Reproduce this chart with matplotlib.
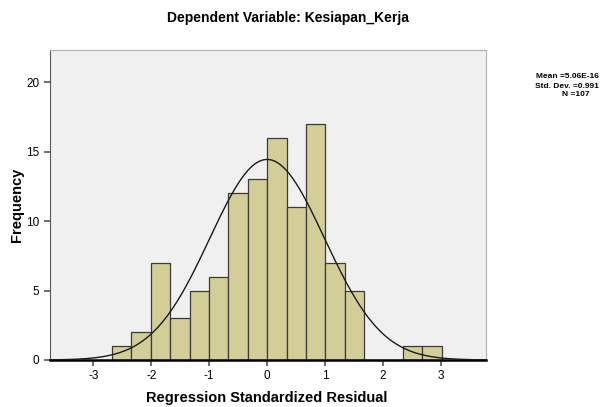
import numpy as np
import matplotlib
matplotlib.use('Agg')
import matplotlib.pyplot as plt

plt.rcParams['font.family'] = ['Liberation Sans', 'DejaVu Sans']
plt.rcParams['axes.unicode_minus'] = False

# histogram of standardized residuals
bin_start = -2.68
bin_width = 0.335
counts = [1, 2, 7, 3, 5, 6, 12, 13, 16, 11, 17, 7, 5, 0, 0, 1, 1]
mean = 5.06e-16
std = 0.991
n = 107
stats_lines = ['Mean =5.06E-16', 'Std. Dev. =0.991', 'N =107']

edges = bin_start + bin_width * np.arange(len(counts) + 1)

fig = plt.figure(figsize=(6.07, 4.07), dpi=100)
ax = fig.add_axes([0.0824, 0.1155, 0.7183, 0.7615])
ax.set_facecolor('#f0f0f0')

ax.bar(edges[:-1], counts, width=bin_width, align='edge',
       color='#d3ce98', edgecolor='#3a3a3a', linewidth=0.9, zorder=2)

xs = np.linspace(-3.75, 3.78, 400)
pdf = n * bin_width / (std * np.sqrt(2 * np.pi)) * np.exp(-0.5 * ((xs - mean) / std) ** 2)
ax.plot(xs, pdf, color='#1a1a1a', linewidth=1.0, zorder=3)

ax.set_xlim(-3.75, 3.78)
ax.set_ylim(0, 22.3)
ax.set_xticks([-3, -2, -1, 0, 1, 2, 3])
ax.set_yticks([0, 5, 10, 15, 20])
ax.tick_params(labelsize=8.5, length=4, width=1.2, color='#555555')

for s in ['top', 'right']:
    ax.spines[s].set_color('#b0b0b0')
    ax.spines[s].set_linewidth(0.8)
ax.spines['left'].set_color('#555555')
ax.spines['bottom'].set_color('#000000')
ax.spines['bottom'].set_linewidth(1.8)

fig.text(267 / 607, 1 - 398 / 407, 'Regression Standardized Residual',
         ha='center', va='center', fontsize=10.5, fontweight='bold')
fig.text(17 / 607, 1 - 205 / 407, 'Frequency', rotation=90,
         ha='center', va='center', fontsize=10.5, fontweight='bold')

fig.text(288 / 607, 1 - 18 / 407, 'Dependent Variable: Kesiapan_Kerja',
         ha='center', va='center', fontsize=10, fontweight='bold')

# stats box, first two lines right aligned, N centred
narrow = ['Liberation Sans Narrow', 'Liberation Sans', 'DejaVu Sans']
fig.text(599 / 607, 1 - 77 / 407, stats_lines[0], ha='right', va='center',
         fontsize=6, fontweight='bold', family=narrow)
fig.text(599 / 607, 1 - 86 / 407, stats_lines[1], ha='right', va='center',
         fontsize=6, fontweight='bold', family=narrow)
fig.text(576 / 607, 1 - 95 / 407, stats_lines[2], ha='center', va='center',
         fontsize=6, fontweight='bold', family=narrow)

fig.savefig('out.png', dpi=100)
